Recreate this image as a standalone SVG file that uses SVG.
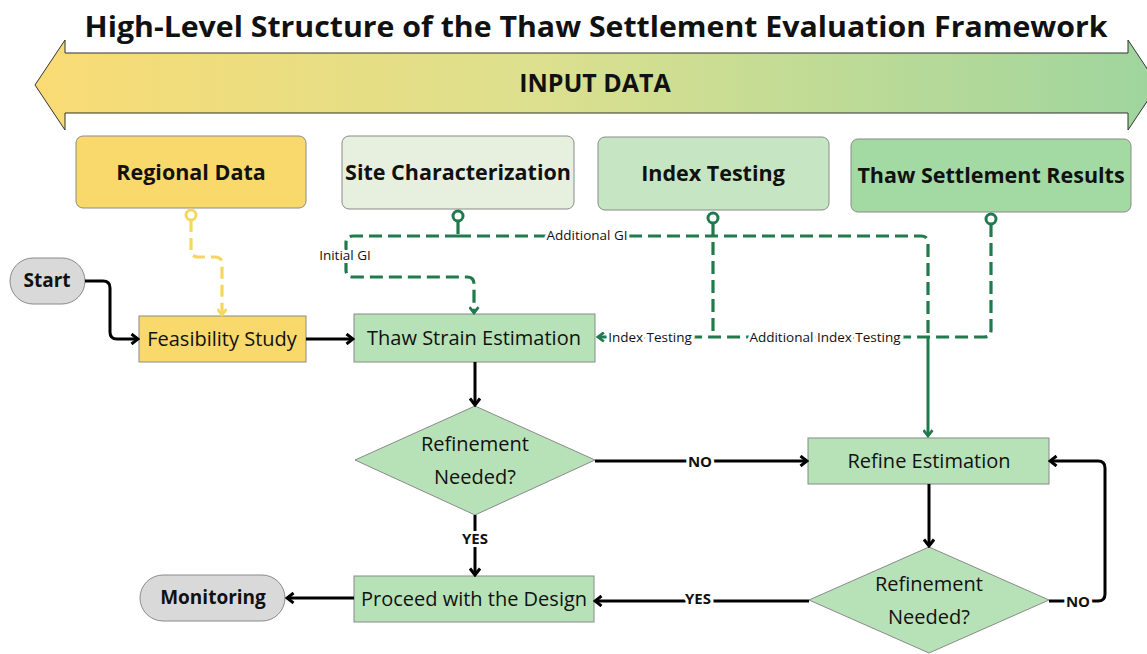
<svg xmlns="http://www.w3.org/2000/svg" width="1147" height="654" viewBox="0 0 1147 654">
<defs>
<linearGradient id="band" x1="0" y1="0" x2="1" y2="0">
<stop offset="0" stop-color="#F9DB74"/>
<stop offset="0.45" stop-color="#DCE08E"/>
<stop offset="1" stop-color="#9ED59E"/>
</linearGradient>
<marker id="ab" viewBox="0 0 10 12" refX="8" refY="6" markerWidth="10" markerHeight="12" markerUnits="userSpaceOnUse" orient="auto">
<path d="M1.5,1 L8,6 L1.5,11" fill="none" stroke="#000" stroke-width="3"/>
</marker>
<marker id="ag" viewBox="0 0 10 12" refX="8" refY="6" markerWidth="9" markerHeight="11" markerUnits="userSpaceOnUse" orient="auto">
<path d="M1.5,1 L8,6 L1.5,11" fill="none" stroke="#217A4B" stroke-width="3"/>
</marker>
<marker id="ay" viewBox="0 0 10 12" refX="8" refY="6" markerWidth="9" markerHeight="11" markerUnits="userSpaceOnUse" orient="auto">
<path d="M1.5,1 L8,6 L1.5,11" fill="none" stroke="#F5D661" stroke-width="3"/>
</marker>
</defs>
<style>
text{font-family:"Open Sans","Liberation Sans",sans-serif;fill:#111;text-anchor:middle;dominant-baseline:central}
.title{font-size:29px;font-weight:bold}
.band{font-size:25px;font-weight:bold}
.hdr{font-size:21.5px;font-weight:bold}
.nd{font-size:20px}
.term{font-size:19px;font-weight:bold}
.lbl{font-size:13.5px;paint-order:stroke;stroke:#fff;stroke-width:6px}
.yn{font-size:15px;font-weight:bold;paint-order:stroke;stroke:#fff;stroke-width:6px}
.box{stroke:#8a8a8a;stroke-width:1}
.blk{fill:none;stroke:#000;stroke-width:3}
.gd{fill:none;stroke:#217A4B;stroke-width:3.2;stroke-dasharray:13 6}
.gs{fill:none;stroke:#217A4B;stroke-width:3}
.yd{fill:none;stroke:#F5D661;stroke-width:3.2;stroke-dasharray:12 6}
.dot{fill:#fff;stroke-width:3}
</style>
<rect width="1147" height="654" fill="#fff"/>
<text class="title" x="596" y="25" textLength="1023" lengthAdjust="spacingAndGlyphs">High-Level Structure of the Thaw Settlement Evaluation Framework</text>
<g id="input-data">
<path d="M35,85 L65,40 L65,53 L1128,53 L1128,40 L1158,85 L1128,130 L1128,113 L65,113 L65,130 Z" fill="url(#band)" stroke="#333" stroke-width="1"/>
<text class="band" x="595" y="82">INPUT DATA</text>
</g>
<g id="regional-data"><rect class="box" x="76" y="136" width="230" height="72" rx="7" fill="#F9D96B"/><text class="hdr" x="191" y="171">Regional Data</text></g>
<g id="site-characterization"><rect class="box" x="342" y="136" width="232" height="73" rx="7" fill="#E7F0DF"/><text class="hdr" x="458" y="171">Site Characterization</text></g>
<g id="index-testing"><rect class="box" x="598" y="137" width="231" height="73" rx="7" fill="#C6E5C3"/><text class="hdr" x="713" y="172">Index Testing</text></g>
<g id="thaw-settlement-results"><rect class="box" x="851" y="139" width="280" height="73" rx="7" fill="#A3D9A3"/><text class="hdr" x="991" y="174">Thaw Settlement Results</text></g>
<g id="start"><rect class="box" x="10" y="258" width="75" height="46" rx="23" fill="#D9D9D9"/><text class="term" x="47" y="280">Start</text></g>
<g id="feasibility-study"><rect class="box" x="139" y="316" width="167" height="46" fill="#F9D96B"/><text class="nd" x="222" y="338">Feasibility Study</text></g>
<g id="thaw-strain-estimation"><rect class="box" x="354" y="314" width="241" height="48" fill="#B7E1B7"/><text class="nd" x="474" y="337">Thaw Strain Estimation</text></g>
<g id="decision-1"><path class="box" d="M475,406 L595,460 L475,515 L355,460 Z" fill="#B7E1B7"/><text class="nd" x="475" y="443">Refinement</text><text class="nd" x="475" y="476">Needed?</text></g>
<g id="refine-estimation"><rect class="box" x="808" y="438" width="241" height="46" fill="#B7E1B7"/><text class="nd" x="929" y="460">Refine Estimation</text></g>
<g id="proceed-design"><rect class="box" x="354" y="576" width="240" height="46" fill="#B7E1B7"/><text class="nd" x="474" y="598">Proceed with the Design</text></g>
<g id="monitoring"><rect class="box" x="140" y="575" width="145" height="46" rx="23" fill="#D9D9D9"/><text class="term" x="213" y="597">Monitoring</text></g>
<g id="decision-2"><path class="box" d="M929,547 L1049,600 L929,653 L809,600 Z" fill="#B7E1B7"/><text class="nd" x="929" y="583">Refinement</text><text class="nd" x="929" y="616">Needed?</text></g>
<g id="connectors">
<path class="yd" d="M191,220 V250 Q191,257 198,257 H215 Q222,257 222,264 V315" marker-end="url(#ay)"/>
<circle class="dot" cx="191" cy="215" r="5" stroke="#F5D661"/>
<path class="gd" d="M458,221 V236"/>
<path class="gd" d="M458,236 H353 Q346,236 346,243 V270 Q346,277 353,277 H467 Q474,277 474,284 V313" marker-end="url(#ag)"/>
<path class="gd" d="M458,236 H921 Q928,236 928,243 V337"/>
<path class="gs" d="M928,337 V436" marker-end="url(#ag)"/>
<path class="gd" d="M713,223 V337"/>
<path class="gd" d="M991,224 V330 Q991,337 984,337 H598" marker-end="url(#ag)"/>
<circle class="dot" cx="458" cy="216" r="5" stroke="#217A4B"/>
<circle class="dot" cx="713" cy="218" r="5" stroke="#217A4B"/>
<circle class="dot" cx="991" cy="219" r="5" stroke="#217A4B"/>
<text class="lbl" x="587" y="235">Additional GI</text>
<text class="lbl" x="345" y="255">Initial GI</text>
<text class="lbl" x="650" y="337">Index Testing</text>
<text class="lbl" x="825" y="337">Additional Index Testing</text>
<path class="blk" d="M85,281 H103 Q110,281 110,288 V332 Q110,339 117,339 H138" marker-end="url(#ab)"/>
<path class="blk" d="M306,339 H353" marker-end="url(#ab)"/>
<path class="blk" d="M475,362 V405" marker-end="url(#ab)"/>
<path class="blk" d="M595,461 H807" marker-end="url(#ab)"/>
<path class="blk" d="M475,515 V575" marker-end="url(#ab)"/>
<path class="blk" d="M354,598 H287" marker-end="url(#ab)"/>
<path class="blk" d="M929,484 V546" marker-end="url(#ab)"/>
<path class="blk" d="M809,601 H595" marker-end="url(#ab)"/>
<path class="blk" d="M1049,601 H1098 Q1105,601 1105,594 V468 Q1105,461 1098,461 H1050" marker-end="url(#ab)"/>
<text class="yn" x="700" y="461">NO</text>
<text class="yn" x="475" y="538">YES</text>
<text class="yn" x="698" y="598">YES</text>
<text class="yn" x="1078" y="601">NO</text>
</g>
</svg>
